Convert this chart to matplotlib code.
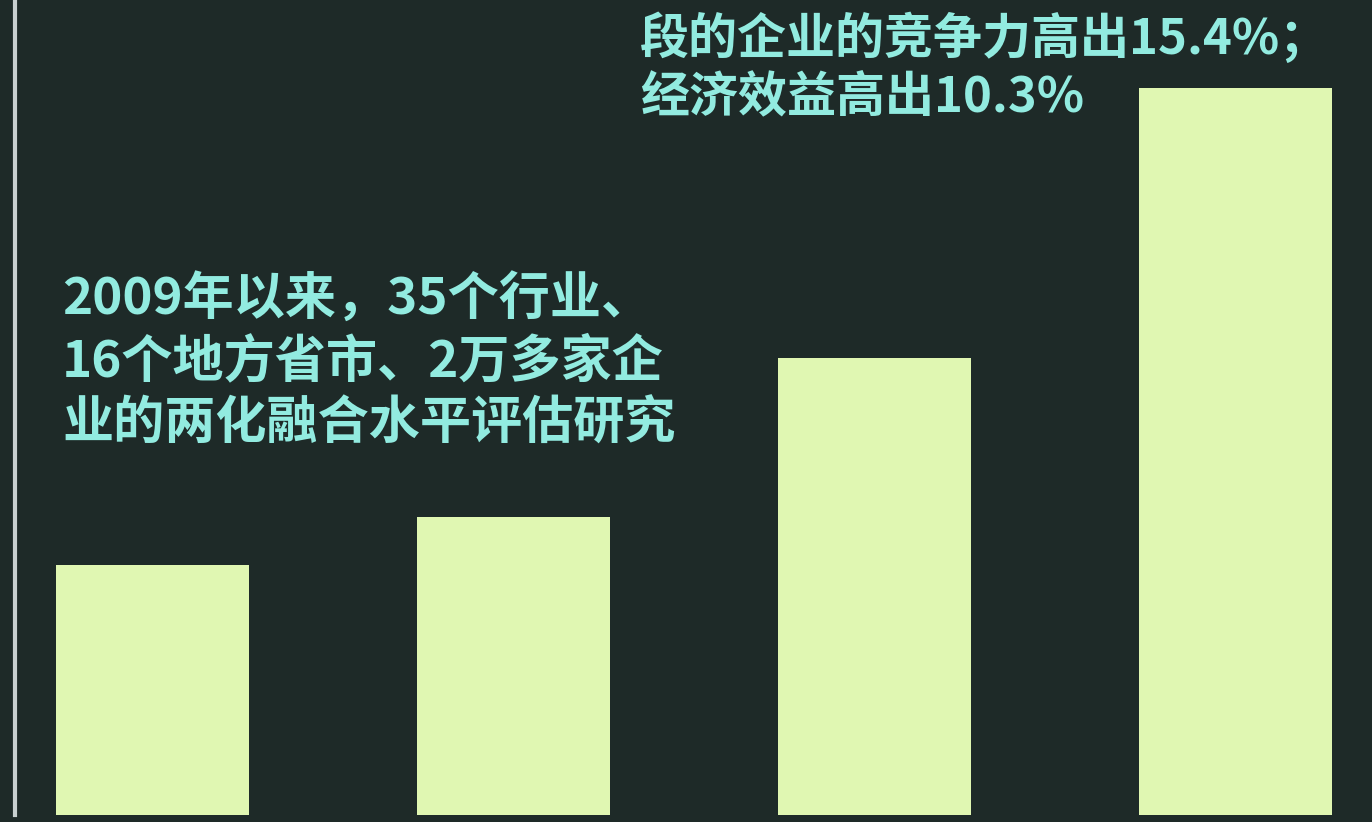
import matplotlib
matplotlib.use('Agg')
import matplotlib.pyplot as plt

plt.rcParams['font.family'] = ['Noto Sans CJK SC', 'DejaVu Sans']

# Data (relative bar heights, tallest = 100).
categories = ['A', 'B', 'C', 'D']
values = [34.4, 41.0, 62.9, 100.0]
note_left = ['2009年以来，35个行业、', '16个地方省市、2万多家企', '业的两化融合水平评估研究']
note_right = ['段的企业的竞争力高出15.4%；', '经济效益高出10.3%']

bg = '#1e2a28'
bar_color = '#e0f7b2'
text_color = '#92ebe0'

fig = plt.figure(figsize=(13.72, 8.22), dpi=100)
fig.patch.set_facecolor(bg)
ax = fig.add_axes([15 / 1372, 7 / 822, 1 - 15 / 1372, 815 / 822])
ax.set_facecolor(bg)

x = list(range(len(categories)))
ax.bar(x, values, width=0.535, color=bar_color, edgecolor='none')
ax.set_xlim(-0.381, 3.378)
ax.set_ylim(0, 112.1)

# Only the left axis line is visible.
for side in ['top', 'right', 'bottom']:
    ax.spines[side].set_visible(False)
ax.spines['left'].set_color('#c8d0d0')
ax.spines['left'].set_linewidth(3)
ax.set_xticks([])
ax.set_yticks([])

# Annotation text blocks.
for i, line in enumerate(note_left):
    fig.text(62 / 1372, 1 - (300 + i * 62) / 822, line, color=text_color,
             fontsize=36.8, fontweight='bold', ha='left', va='center')
for i, line in enumerate(note_right):
    fig.text(640 / 1372, 1 - (38 + i * 60) / 822, line, color=text_color,
             fontsize=35.3, fontweight='bold', ha='left', va='center')

fig.savefig('out.png', dpi=100, facecolor=bg)
